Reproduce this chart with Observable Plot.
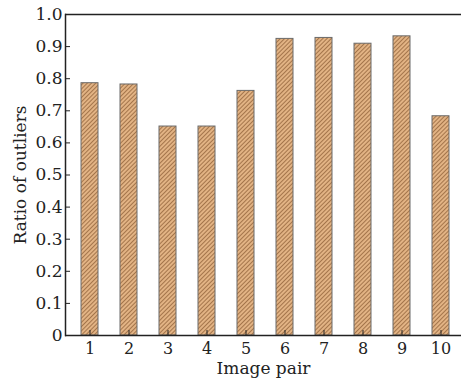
<!DOCTYPE html>
<html><head><meta charset="utf-8">
<script src="https://cdn.jsdelivr.net/npm/d3@7"></script>
<script src="https://cdn.jsdelivr.net/npm/@observablehq/plot@0.6"></script>
<style>body{margin:0;background:#fff}</style>
</head><body><div id="chart"></div>
<script>
const pairs = ["1","2","3","4","5","6","7","8","9","10"];
const ratios = [0.786, 0.782, 0.651, 0.651, 0.762, 0.924, 0.927, 0.909, 0.932, 0.683];
const yTicks = [0,0.1,0.2,0.3,0.4,0.5,0.6,0.7,0.8,0.9,1.0];
const data = pairs.map((p,i)=>({pair:p, ratio:ratios[i]}));
const font = "DejaVu Serif, serif";
const chart = Plot.plot({
  width: 461, height: 384,
  marginTop: 14, marginBottom: 49, marginLeft: 65, marginRight: 0,
  style: {fontFamily: font, fontSize: "17px", color: "#222", background: "#fff"},
  x: {domain: pairs, range: [65, 464], paddingInner: 0.57, paddingOuter: 0.285, label: null},
  y: {domain: [0,1], label: null},
  marks: [
    Plot.barY(data, {x:"pair", y:"ratio", fill:"url(#hatch)", stroke:"#6a6a6a", strokeWidth:1}),
    Plot.ruleY([0,1], {stroke:"#222", strokeWidth:1.5}),
    Plot.frame({anchor:"left", stroke:"#222", strokeWidth:1.5}),
    Plot.axisY(yTicks, {tickSize:5, dx:5, tickPadding:3, tickFormat: d => d===0 ? "0" : d.toFixed(1), fontSize:17, stroke:"#222", label:null}),
    Plot.axisX(pairs, {tickSize:5, dy:-5, tickPadding:7, fontSize:16, stroke:"#222", label:null}),
    Plot.text(["Image pair"], {frameAnchor:"bottom", dy:38, fontSize:17, fill:"#222"}),
    Plot.text(["Ratio of outliers"], {frameAnchor:"left", textAnchor:"middle", dx:-45, rotate:-90, fontSize:17, fill:"#222"})
  ]
});
const ns = "http://www.w3.org/2000/svg";
const defs = document.createElementNS(ns,"defs");
defs.innerHTML = `<pattern id="hatch" patternUnits="userSpaceOnUse" width="3" height="3" patternTransform="rotate(45)"><rect width="3" height="3" fill="#e2b384"/><line x1="0.5" y1="0" x2="0.5" y2="3" stroke="#94643c" stroke-width="0.8"/></pattern>`;
chart.insertBefore(defs, chart.firstChild);
document.getElementById("chart").appendChild(chart);
</script></body></html>
